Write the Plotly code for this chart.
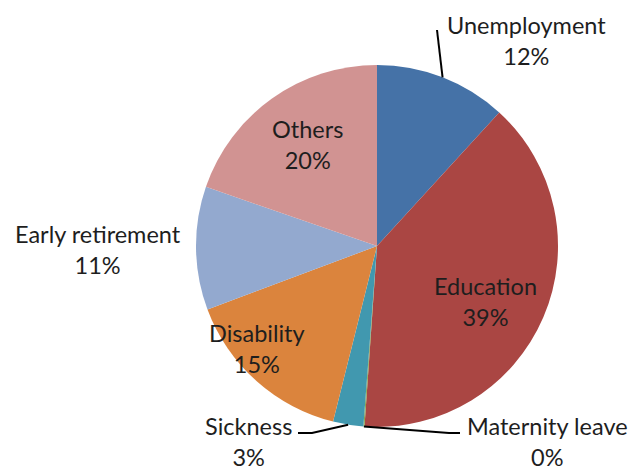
import math
import plotly.graph_objects as go

labels = ["Unemployment", "Education", "Maternity leave", "Sickness",
          "Disability", "Early retirement", "Others"]
values = [11.8, 39.3, 0.1, 2.7, 15.4, 11.0, 19.7]
colors = ["#4572A7", "#AA4643", "#89A54E", "#4198AF",
          "#DB843D", "#93A9CF", "#D19392"]

W, H = 636, 472
CX, CY, R = 377, 246, 181

# label block centres (pixels) and leader-line elbows
label_pos = {
    "Unemployment": (526, 40),
    "Education": (485, 301),
    "Maternity leave": (547, 441),
    "Sickness": (248, 441),
    "Disability": (257, 348),
    "Early retirement": (98, 249),
    "Others": (307, 145),
}
leaders = {
    "Unemployment": [(437, 30)],
    "Maternity leave": [(449, 433), (460, 433)],
    "Sickness": [(312, 433), (298, 433)],
}

def px(x, y):
    return x / W, 1 - y / H

fig = go.Figure(go.Pie(
    labels=labels, values=values, sort=False, direction="clockwise",
    rotation=0, marker=dict(colors=colors, line=dict(width=0)),
    textinfo="none", hoverinfo="label+percent", showlegend=False,
    domain=dict(x=[(CX - R) / W, (CX + R) / W],
                y=[1 - (CY + R) / H, 1 - (CY - R) / H]),
))

total = sum(values)
cum = 0.0
annotations = []
shapes = []
for lab, v in zip(labels, values):
    mid = (cum + v / 2) / total * 2 * math.pi
    cum += v
    pct = f"{round(v / total * 100):d}%"
    x, y = label_pos[lab]
    ax, ay = px(x, y)
    annotations.append(dict(x=ax, y=ay, xref="paper", yref="paper",
                            text=f"{lab}<br>{pct}", showarrow=False,
                            xanchor="center", yanchor="middle",
                            font=dict(family="Lato", size=23.5, color="#1e1e1e")))
    if lab in leaders:
        sx = CX + R * math.sin(mid)
        sy = CY - R * math.cos(mid)
        pts = [(sx, sy)] + leaders[lab]
        path = "M " + " L ".join(f"{px(a, b)[0]:.5f},{px(a, b)[1]:.5f}" for a, b in pts)
        shapes.append(dict(type="path", path=path, xref="paper", yref="paper",
                           line=dict(color="#000000", width=2)))

fig.update_layout(
    width=W, height=H, margin=dict(l=0, r=0, t=0, b=0),
    paper_bgcolor="white", plot_bgcolor="white",
    annotations=annotations, shapes=shapes,
)
fig.write_html("out.html", config={"displayModeBar": False},
               post_script="document.body.style.margin='0px';document.body.style.overflow='hidden';")
